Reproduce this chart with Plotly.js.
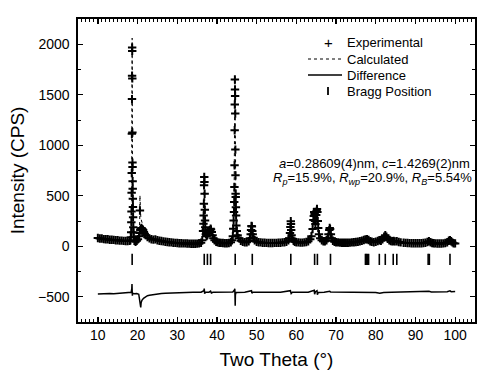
<!DOCTYPE html>
<html>
<head>
<meta charset="utf-8">
<script src="https://cdn.plot.ly/plotly-3.0.1.min.js"></script>
<style>html,body{margin:0;padding:0;background:#fff;}#chart{width:482px;height:380px;}</style>
</head>
<body>
<div id="chart"></div>
<script>
// Observed (experimental) pattern: 2θ (°) and intensity (CPS)
const twoTheta = [
  10,10.5,11,11.5,12,12.5,13,13.5,14,14.5,15,15.5,16,16.5,17,17.5,18,
  18.2,18.3,18.4,18.44,18.48,18.51,18.54,18.57,18.6,18.62,18.64,18.66,18.68,18.7,18.72,18.74,18.76,18.78,18.81,18.84,18.88,18.92,18.97,19.05,
  19.2,19.5,19.8,20.1,20.4,20.5,20.6,20.7,20.8,21,21.2,21.4,21.6,21.8,22,22.5,23,23.5,24,24.5,25,25.5,26,26.5,27,27.5,28,28.5,29,29.5,30,30.5,31,31.5,32,32.5,33,33.5,34,34.5,35,35.5,36,36.3,
  36.5,36.6,36.65,36.7,36.75,36.8,36.85,36.9,36.95,37,37.05,37.1,37.2,37.4,37.6,37.8,38,38.2,38.4,38.5,38.7,38.9,39.1,39.4,39.8,40.2,40.6,41,41.5,42,42.5,43,43.5,43.8,44,
  44.1,44.2,44.3,44.35,44.4,44.43,44.46,44.49,44.52,44.55,44.58,44.61,44.64,44.67,44.7,44.73,44.77,44.82,44.88,45,45.2,45.5,46,46.5,47,47.5,48,
  48.3,48.5,48.6,48.7,48.8,48.9,49,49.2,49.5,50,50.5,51,51.5,52,52.5,53,53.5,54,54.5,55,55.5,56,56.5,57,57.5,58,58.2,58.4,58.5,58.6,58.65,58.7,58.8,59,59.3,59.6,60,60.5,61,61.5,62,62.5,63,63.5,
  63.8,64.1,64.3,64.4,64.5,64.6,64.7,64.8,64.9,65,65.1,65.2,65.3,65.4,65.5,65.7,66,66.4,66.8,67.2,67.6,67.9,68.1,68.3,68.4,68.5,68.7,68.9,69.2,69.6,
  70,70.5,71,71.5,72,72.5,73,73.5,74,74.5,75,75.5,76,76.5,77,77.4,77.8,78.2,78.6,79,79.5,80,80.5,80.9,81.3,81.7,82.1,82.4,82.7,83,83.4,83.8,84.2,84.5,84.8,85.3,85.8,86.3,87,87.5,88,88.5,89,89.5,90,90.5,91,91.5,92,92.5,93,93.4,93.8,94.2,94.6,95,95.5,96,96.5,97,97.5,98,98.4,98.7,99,99.3,99.6,100
];
const observed = [
  82,76,77,71,70,69,65,64,63,59,60,56,56,53,52,51,53,
  60,90,139,238,345,530,725,1113,1457,1689,1967,1934,1662,1126,828,785,643,570,470,388,288,189,139,90,
  55,45,55,70,100,130,354,160,175,180,170,160,140,125,110,90,78,70,66,68,60,55,52,48,45,42,40,38,35,33,32,30,30,28,28,27,26,25,25,25,26,28,35,60,
  150,222,305,421,603,685,635,520,361,255,189,156,120,100,110,130,150,160,173,165,140,110,80,60,45,38,35,33,32,30,30,32,40,60,100,
  173,255,338,437,586,801,1149,1404,1652,1553,1487,1315,957,702,520,487,387,305,206,150,110,80,55,45,40,40,50,
  80,120,160,200,195,150,120,85,60,45,40,38,35,35,33,32,32,32,33,33,35,35,38,40,45,60,80,130,190,248,220,160,110,75,55,45,40,38,36,36,38,42,50,70,
  100,170,260,300,340,320,250,220,250,310,350,370,340,250,180,120,80,60,50,50,60,80,120,160,180,170,120,80,55,45,
  40,38,36,35,35,35,35,36,38,40,42,45,50,55,62,68,70,62,50,45,40,45,52,60,55,70,95,110,95,75,60,52,50,52,48,50,42,38,35,33,32,31,30,30,30,30,30,30,32,35,42,50,40,32,30,28,27,27,27,28,32,40,55,60,50,38,30,28
];

// Calculated profile
const calcTheta = [
  10,12,14,16,17.5,18.2,18.4,18.5,18.56,18.6,18.64,18.68,18.72,18.78,18.85,18.95,19.1,19.5,20,20.4,
  20.55,20.6,20.65,20.8,21,21.5,22,23,24,26,28,30,33,36,36.5,36.65,36.8,36.95,37.1,37.5,
  38,38.4,38.8,39.3,40,42,43.5,44,44.3,44.42,44.52,44.62,44.72,44.85,45.1,45.6,47,48.3,48.7,49,
  49.6,52,55,57.5,58.3,58.6,58.9,59.5,61,63,64,64.5,64.8,65.2,65.6,66.2,67.5,68.4,69,70,
  73,76,77.8,79,80.9,82.4,83.5,84.6,86,90,93.4,95,97,98.7,100
];
const calculated = [
  78,68,60,54,50,58,150,450,1200,1800,2060,1650,900,520,300,150,90,50,60,110,
  250,503,350,300,250,190,140,95,72,52,40,32,27,30,120,400,700,380,150,100,
  150,170,120,60,38,30,40,100,380,900,1678,1300,600,300,130,70,40,80,200,120,
  55,35,33,45,100,245,90,48,36,50,150,340,230,370,150,70,55,175,70,40,
  35,50,70,42,58,108,60,50,40,30,48,28,28,58,28
];

// Difference curve (Iobs - Icalc, as plotted with its offset)
const diffTheta = [
  10,11,12,13,14,15,16,17,18,18.4,18.55,18.6,18.65,18.7,18.8,19.2,19.8,20.3,20.6,20.8,
  20.9,21.1,21.5,22,22.5,23,24,25,26,27,28,29,30,32,34,36,36.7,36.8,36.9,37.1,
  38,38.4,38.6,39,40,42,44,44.45,44.5,44.55,44.6,44.65,44.8,45.5,47,48.7,48.8,49,50,52,
  54,56,58.5,58.7,59,61,63,64.5,64.6,64.8,65.2,65.3,65.5,67,68.4,68.6,70,72,74,76,
  78,80,81,82,84,86,88,90,92,93.4,94,96,98,98.7,99,100
];
const difference = [
  -473,-470,-472,-468,-470,-467,-466,-465,-462,-455,-420,-375,-440,-490,-465,-470,-468,-475,-560,-605,
  -560,-535,-515,-500,-490,-485,-478,-472,-468,-465,-463,-460,-458,-457,-456,-455,-440,-420,-470,-455,
  -455,-445,-462,-455,-455,-455,-453,-430,-420,-500,-590,-480,-458,-455,-455,-440,-465,-455,-455,-456,
  -455,-456,-440,-468,-456,-455,-456,-435,-475,-450,-440,-480,-458,-455,-445,-452,-452,-453,-452,-454,
  -456,-458,-465,-458,-455,-453,-452,-452,-451,-445,-452,-451,-450,-442,-450,-448
];

// Bragg reflection positions (2θ, °)
const braggPos = [18.64,36.8,37.6,38.4,44.6,48.9,58.6,64.6,65.3,68.6,77.4,77.6,77.9,78.2,80.9,82.4,84.4,85.3,93.2,93.5,98.7];
const BRAGG_LEVEL = -130;

const legendLabels = ['Experimental','Calculated','Difference','Bragg Position'];

const FONT = 'Liberation Sans, Arial, Helvetica, sans-serif';

const traces = [
  {x: calcTheta, y: calculated, type:'scatter', mode:'lines', name:'Calculated',
   line:{color:'#000', width:1, dash:'dot'}, hoverinfo:'skip'},
  {x: twoTheta, y: observed, type:'scatter', mode:'markers', name:'Experimental',
   marker:{symbol:'cross-thin', size:6, color:'#000', line:{width:2, color:'#000'}}},
  {x: diffTheta, y: difference, type:'scatter', mode:'lines', name:'Difference',
   line:{color:'#000', width:1.5}},
  {x: braggPos, y: braggPos.map(() => BRAGG_LEVEL), type:'scatter', mode:'markers', name:'Bragg Position',
   marker:{symbol:'line-ns', size:8, color:'#000', line:{width:1.6, color:'#000'}}}
];

// manual legend (paper coordinates)
const px = v => (v - 78) / 397;
const py = v => 1 - (v - 19) / 303;
const legendRows = [43, 59, 75, 91];
const annotations = legendLabels.map((t, i) => ({
  xref:'paper', yref:'paper', x:px(345), y:py(legendRows[i]), xanchor:'left', yanchor:'middle',
  text:t, showarrow:false, font:{family:FONT, size:13, color:'#000'}
}));
annotations.push({xref:'paper', yref:'paper', x:px(328), y:py(legendRows[0]), xanchor:'center', yanchor:'middle',
  text:'+', showarrow:false, font:{family:FONT, size:15, color:'#000'}});
annotations.push({xref:'paper', yref:'paper', x:px(472), y:py(163), xanchor:'right', yanchor:'middle',
  text:'<i>a</i>=0.28609(4)nm, <i>c</i>=1.4269(2)nm', showarrow:false, font:{family:FONT, size:13, color:'#000'}});
annotations.push({xref:'paper', yref:'paper', x:px(474), y:py(179), xanchor:'right', yanchor:'middle',
  text:'<i>R</i><sub><i>p</i></sub>=15.9%, <i>R</i><sub><i>wp</i></sub>=20.9%, <i>R</i><sub><i>B</i></sub>=5.54%', showarrow:false, font:{family:FONT, size:13, color:'#000'}});

const shapes = [
  {type:'line', xref:'paper', yref:'paper', x0:px(308), x1:px(342), y0:py(legendRows[1]), y1:py(legendRows[1]), line:{color:'#000', width:1, dash:'dot'}},
  {type:'line', xref:'paper', yref:'paper', x0:px(308), x1:px(342), y0:py(legendRows[2]), y1:py(legendRows[2]), line:{color:'#000', width:1.3}},
  {type:'line', xref:'paper', yref:'paper', x0:px(328), x1:px(328), y0:py(legendRows[3]-4), y1:py(legendRows[3]+4), line:{color:'#000', width:1.8}}
];

const layout = {
  width:482, height:380,
  margin:{l:78, r:7, t:19, b:58, pad:0},
  paper_bgcolor:'#fff', plot_bgcolor:'#fff',
  showlegend:false,
  font:{family:FONT, color:'#000'},
  xaxis:{
    range:[5,105], tick0:10, dtick:10, ticks:'inside', ticklen:5, tickwidth:1.3, tickcolor:'#000',
    minor:{dtick:1, ticks:'inside', ticklen:3, tickwidth:1, tickcolor:'#000'},
    showline:true, linewidth:1.6, linecolor:'#000', mirror:'ticks', showgrid:false, zeroline:false,
    tickfont:{family:FONT, size:14, color:'#000'},
    title:{text:'Two Theta (°)', font:{family:FONT, size:19, color:'#000'}, standoff:10}
  },
  yaxis:{
    range:[-750,2250], tick0:0, dtick:500, ticks:'inside', ticklen:5, tickwidth:1.3, tickcolor:'#000',
    minor:{dtick:250, ticks:'inside', ticklen:3, tickwidth:1, tickcolor:'#000'},
    showline:true, linewidth:1.6, linecolor:'#000', mirror:'ticks', showgrid:false, zeroline:false,
    tickfont:{family:FONT, size:14, color:'#000'}, ticklabelstandoff:4,
    title:{text:'Intensity (CPS)', font:{family:FONT, size:19, color:'#000'}, standoff:8}
  },
  annotations:annotations,
  shapes:shapes
};

Plotly.newPlot('chart', traces, layout, {staticPlot:true, displayModeBar:false});
</script>
</body>
</html>
